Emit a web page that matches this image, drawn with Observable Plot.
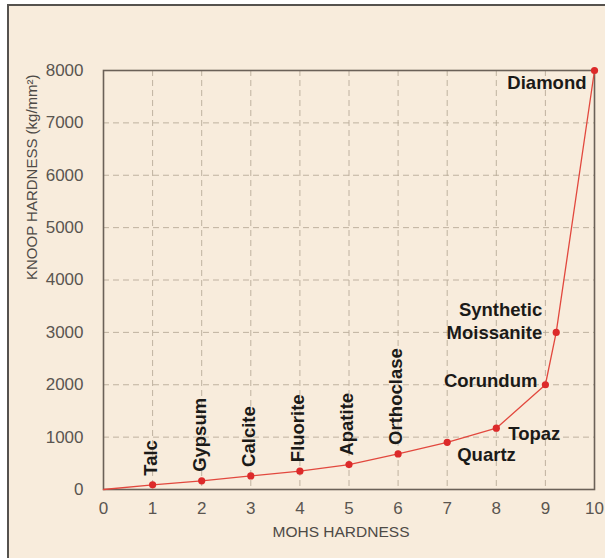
<!DOCTYPE html>
<html><head><meta charset="utf-8">
<script src="https://cdn.jsdelivr.net/npm/d3@7"></script>
<script src="https://cdn.jsdelivr.net/npm/@observablehq/plot@0.6"></script>
<style>
html,body{margin:0;padding:0;background:#fff;overflow:hidden;}
#paper{position:absolute;left:7px;top:4px;width:640px;height:620px;border-left:2px solid #55524e;border-top:2px solid #55524e;background:#f8ecdc;}
#chart{position:absolute;left:0;top:0;}
</style></head><body>
<div id="paper"></div><div id="chart"></div>
<script>
// data
const minerals = ["Talc","Gypsum","Calcite","Fluorite","Apatite","Orthoclase","Quartz","Topaz","Corundum","Synthetic\nMoissanite","Diamond"];
const mohs = [1,2,3,4,5,6,7,8,9,9.22,10];
const knoop = [90,165,260,350,475,680,900,1170,2000,3000,8000];
const originMohs = 0, originKnoop = 0;
const xTicks = [0,1,2,3,4,5,6,7,8,9,10];
const yTicks = [0,1000,2000,3000,4000,5000,6000,7000,8000];
const xLabel = "MOHS HARDNESS";
const yLabel = "KNOOP HARDNESS (kg/mm²)";

const points = minerals.map((m,i)=>({name:m, mohs:mohs[i], knoop:knoop[i]}));
const curve = [{mohs:originMohs, knoop:originKnoop}, ...points];

// label placement (style)
const vertical = new Set(["Talc","Gypsum","Calcite","Fluorite","Apatite","Orthoclase"]);
const place = {
  "Quartz": {textAnchor:"start", dx:10, dy:11},
  "Topaz": {textAnchor:"start", dx:12, dy:4},
  "Corundum": {textAnchor:"end", dx:-8, dy:-5},
  "Synthetic\nMoissanite": {textAnchor:"end", dx:-14, dy:-12},
  "Diamond": {textAnchor:"end", dx:-8, dy:11}
};
const labelFont = {fontSize:18.5, fontWeight:700, fill:"#1b1a18"};

const marks = [
  Plot.gridX(xTicks, {stroke:"#b9ab98", strokeOpacity:1, strokeWidth:0.9, strokeDasharray:"6,4"}),
  Plot.gridY(yTicks, {stroke:"#b9ab98", strokeOpacity:1, strokeWidth:0.9, strokeDasharray:"6,4"}),
  Plot.axisX(xTicks, {tickSize:0, tickPadding:12, fontSize:17, label:null, tickFormat:d=>String(d)}),
  Plot.axisY(yTicks, {tickSize:0, tickPadding:20, fontSize:17, label:null, tickFormat:d=>String(d)}),
  Plot.frame({stroke:"#6b6158", strokeWidth:1.6}),
  Plot.line(curve, {x:"mohs", y:"knoop", stroke:"#e2483e", strokeWidth:1.3}),
  Plot.dot(points, {x:"mohs", y:"knoop", r:3.6, fill:"#dc2a2a"}),
  Plot.text(points.filter(d=>vertical.has(d.name)), {x:"mohs", y:"knoop", text:"name", rotate:-90, textAnchor:"start", lineAnchor:"middle", dx:-2, dy:-9, ...labelFont}),
  ...Object.entries(place).map(([name,o]) =>
    Plot.text(points.filter(d=>d.name===name), {x:"mohs", y:"knoop", text:"name", lineAnchor:"middle", lineHeight:1.25, ...o, ...labelFont})),
  Plot.text([xLabel], {frameAnchor:"bottom", dy:47, dx:-8, fontSize:15.5, fill:"#4e4a46"}),
  Plot.text([yLabel], {frameAnchor:"left", rotate:-90, dx:-71, fontSize:15, fill:"#4e4a46"})
];

const chart = Plot.plot({
  width:605, height:558,
  marginLeft:103, marginRight:11, marginTop:70, marginBottom:69,
  x:{domain:[0,10]},
  y:{domain:[0,8000]},
  style:{background:"transparent", color:"#5a5550", fontFamily:"'Liberation Sans', Arial, sans-serif"},
  marks
});
document.getElementById("chart").appendChild(chart);
</script>
</body></html>
